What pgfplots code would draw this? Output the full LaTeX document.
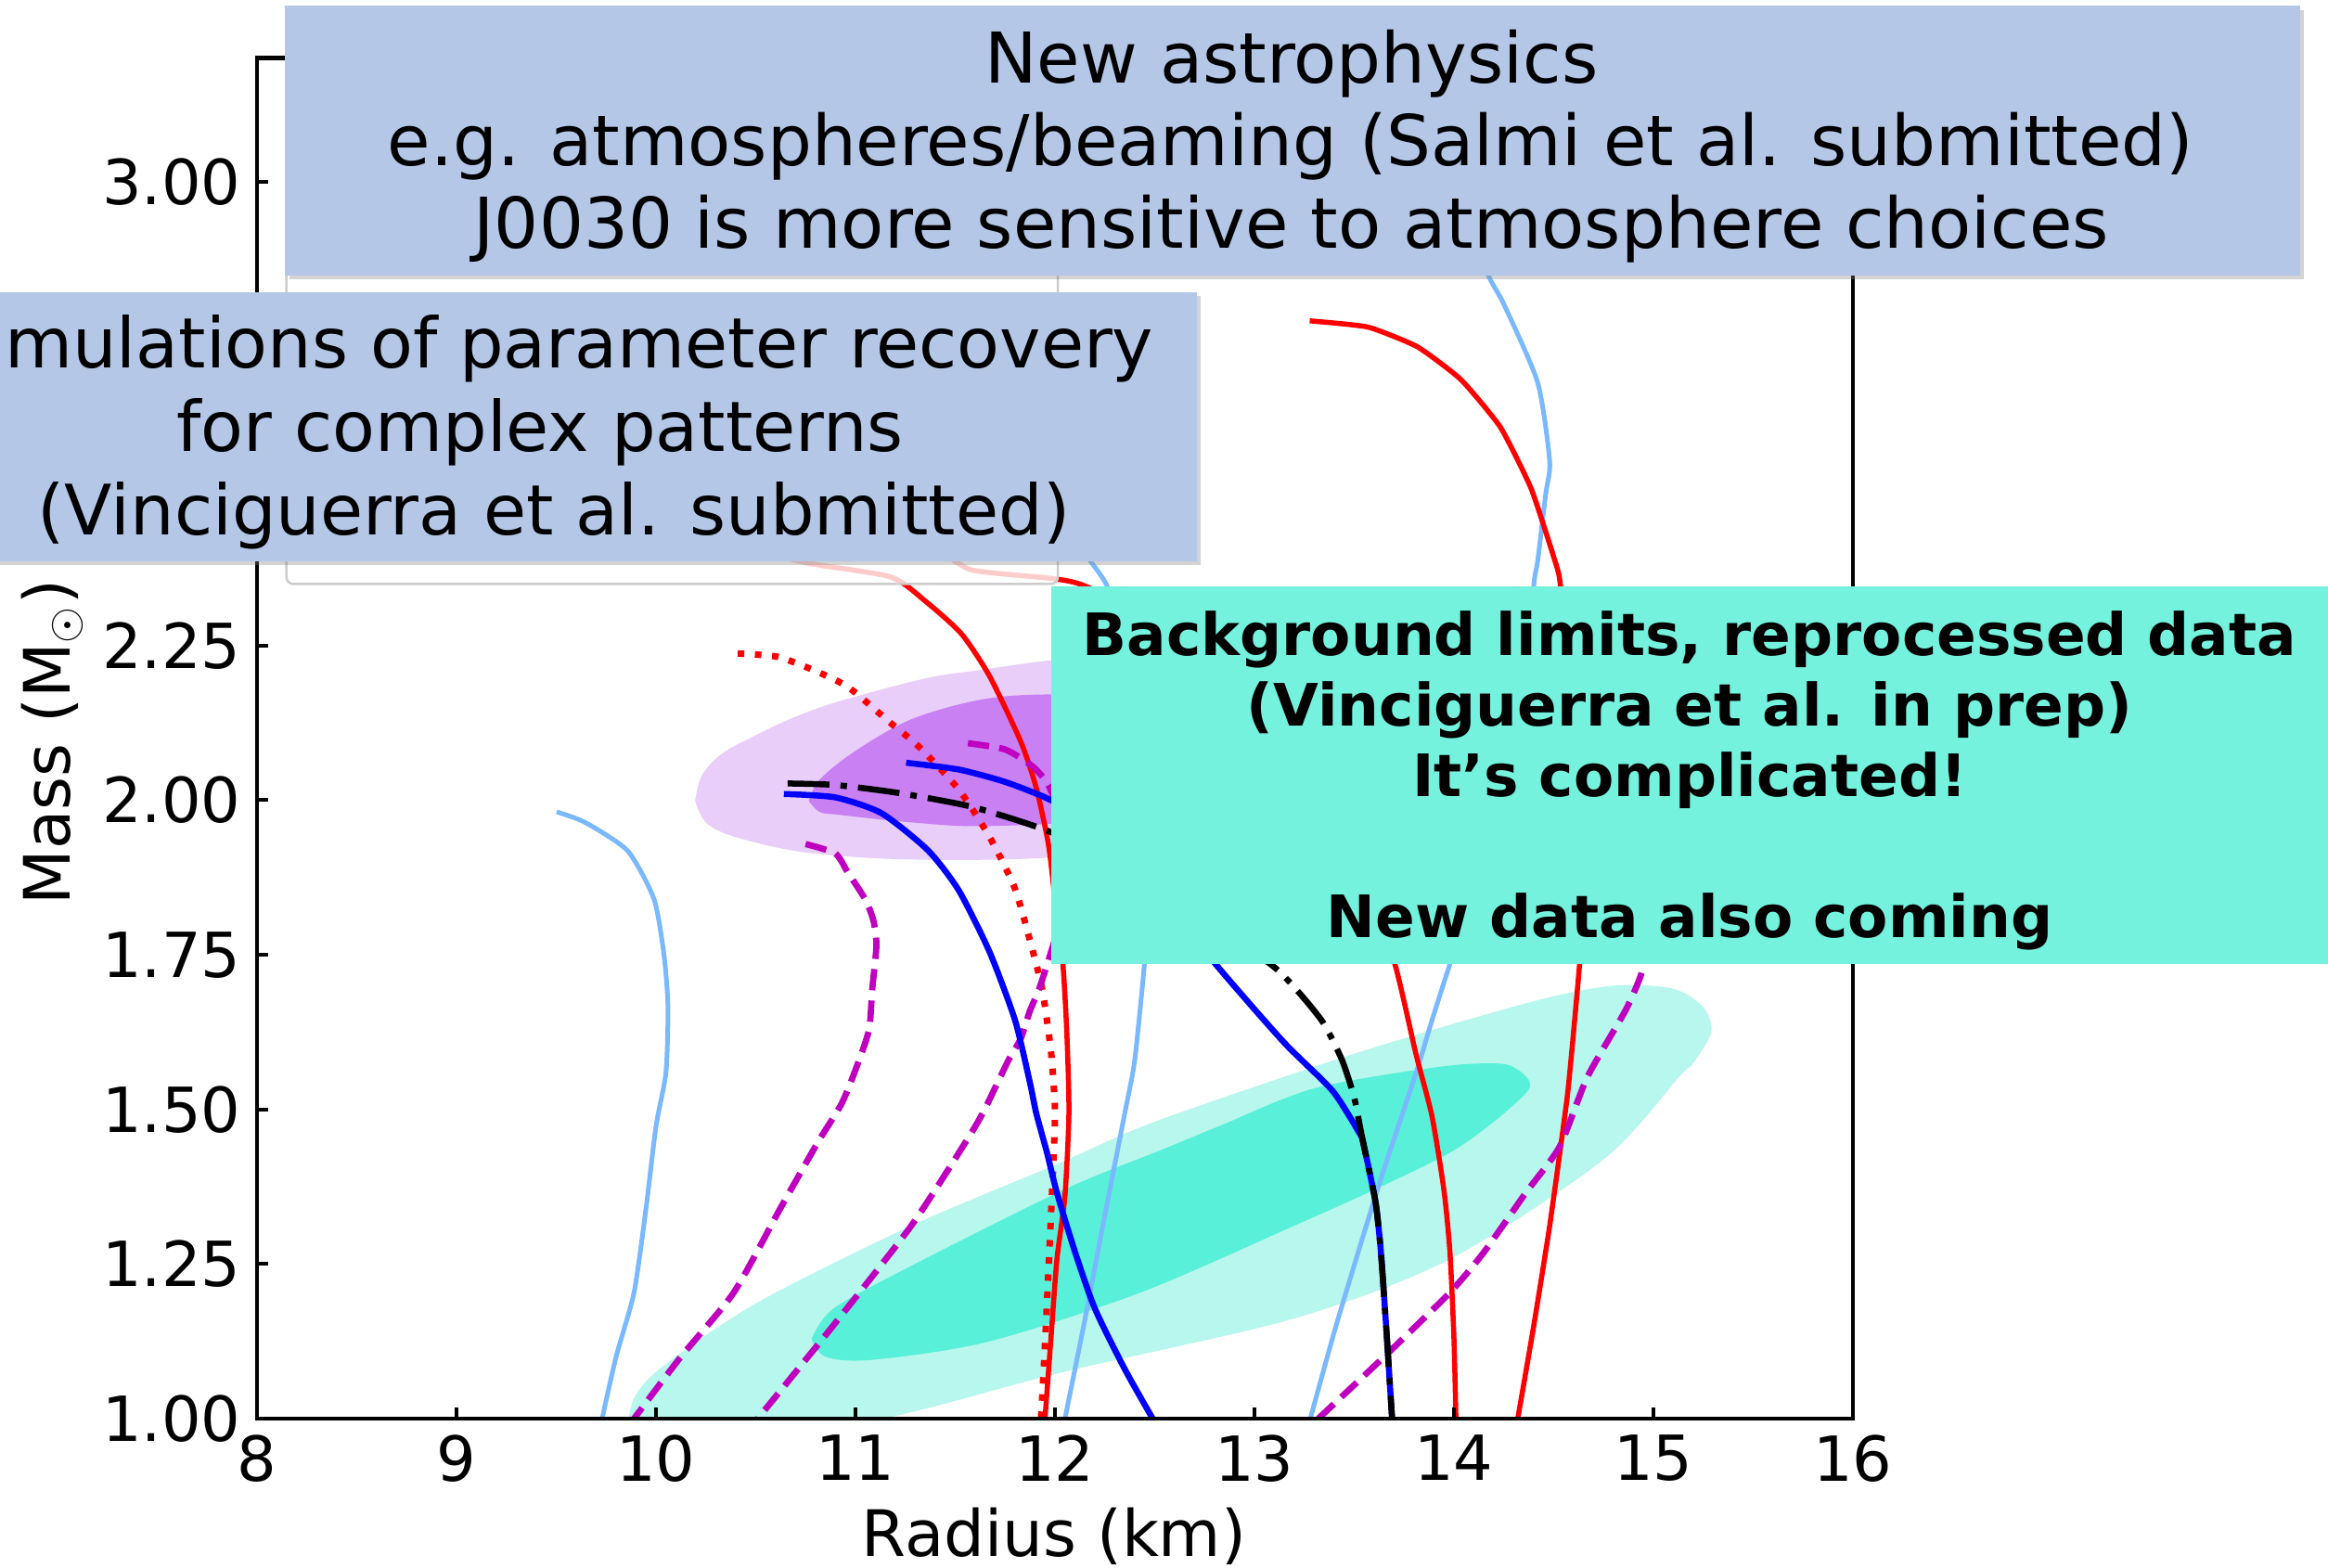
\documentclass[border=0pt]{standalone}
\usepackage{pgfplots}
\pgfplotsset{compat=1.18}
\usepackage{fontspec}
\setmainfont{DejaVu Sans}
\usetikzlibrary{shadows}
\definecolor{lb}{RGB}{122,185,255}
\definecolor{mg}{RGB}{191,0,191}
\definecolor{po}{RGB}{232,206,248}
\definecolor{pin}{RGB}{200,128,242}
\definecolor{to}{RGB}{184,247,237}
\definecolor{ti}{RGB}{88,240,216}
\definecolor{boxblue}{RGB}{180,199,231}
\definecolor{boxteal}{RGB}{116,242,221}
\begin{document}
\begin{tikzpicture}[x=1pt,y=1pt]
\useasboundingbox (0,0) rectangle (501.8,338);
\clip (0,0) rectangle (501.8,338);
\begin{axis}[
  at={(55.4pt,32.2pt)}, anchor=south west,
  scale only axis, width=344pt, height=293.3pt,
  xmin=8, xmax=16, ymin=1, ymax=3.2,
  xtick={8,...,16},
  ytick={1,1.25,1.5,1.75,2,2.25,2.5,2.75,3},
  yticklabels={1.00,1.25,1.50,1.75,2.00,2.25,,,3.00},
  /pgf/number format/assume math mode=true,
  tick label style={font=\fontsize{13.4}{16}\selectfont},
  label style={font=\fontsize{13.8}{16}\selectfont},
  xlabel={Radius (km)}, ylabel={Mass (M$_{\odot}$)},
  xlabel style={at={(axis description cs:0.4994,-0.1016)}, anchor=base},
  ylabel style={at={(axis description cs:-0.1174,0.4971)}, anchor=base},
  tick align=inside, tick pos=left, major tick length=2.4pt,
  every tick/.style={black, line width=0.8pt},
  axis line style={line width=0.9pt},
  axis on top,
  every axis plot/.append style={line join=round},
]
% J0030 contours
\addplot[fill=to, draw=none, smooth, tension=0.5] coordinates {
(9.85,0.97) (9.89,1.033) (10.04,1.086) (10.51,1.188) (11.28,1.312) (12.0,1.41) (12.5,1.48) (13.5,1.59) (14.39,1.674) (14.8,1.70) (15.1,1.695) (15.25,1.665) (15.29,1.625) (15.2,1.575) (15.13,1.553) (14.75,1.419) (13.98,1.258) (13.20,1.162) (12.05,1.076) (11.4,1.02) (11.01,0.99) (10.5,0.95) (10.0,0.94) (9.85,0.97)};
\addplot[fill=ti, draw=none, smooth, tension=0.5] coordinates {
(10.78,1.129) (10.89,1.178) (11.28,1.247) (12.05,1.371) (12.53,1.434) (12.82,1.4725) (13.30,1.534) (13.93,1.569) (14.23,1.574) (14.33,1.562) (14.38,1.544) (14.36,1.526) (14.2,1.48) (13.98,1.43) (13.6,1.37) (13.20,1.312) (12.43,1.204) (11.66,1.124) (11.08,1.095) (10.85,1.10) (10.78,1.129)};
% J0740 contours
\addplot[fill=po, draw=none, smooth, tension=0.55] coordinates {
(10.196,1.999) (10.23,2.04) (10.33,2.075) (10.5,2.105) (10.7,2.135) (10.92,2.16) (11.353,2.197) (11.64,2.211) (11.98,2.226) (12.4,2.235) (12.8,2.21) (13.0,2.12) (12.95,2.02) (12.6,1.94) (12.0,1.908) (11.282,1.904) (10.748,1.9155) (10.392,1.941) (10.25,1.964) (10.196,1.999)};
\addplot[fill=pin, draw=none, smooth, tension=0.55] coordinates {
(10.766,1.999) (10.82,2.033) (10.997,2.079) (11.282,2.131) (11.638,2.163) (11.976,2.171) (12.4,2.165) (12.7,2.12) (12.6,2.02) (12.2,1.97) (11.64,1.958) (11.282,1.964) (10.926,1.976) (10.82,1.981) (10.766,1.999)};
% light blue curves
\addplot[lb, line width=1.0pt, smooth, tension=0.4] coordinates {
(9.502,1.981) (9.645,1.964) (9.858,1.918) (9.99,1.84) (10.04,1.75) (10.06,1.666) (10.05,1.56) (10.0,1.4725) (9.95,1.34) (9.89,1.204) (9.80,1.10) (9.73,1.0)};
\addplot[lb, line width=1.0pt, smooth, tension=0.4] coordinates {
(12.05,1.0) (12.15,1.16) (12.24,1.312) (12.35,1.494) (12.40,1.58) (12.45,1.74) (12.49,1.9) (12.45,2.1) (12.36,2.25) (12.265,2.344) (12.17,2.39) (12.05,2.44)};
\addplot[lb, line width=1.0pt, smooth, tension=0.4] coordinates {
(13.28,1.0) (13.40,1.14) (13.52,1.269) (13.64,1.394) (13.81,1.559) (13.89,1.644) (13.98,1.735) (14.2,1.95) (14.35,2.15) (14.40,2.347) (14.42,2.387) (14.46,2.495) (14.48,2.548) (14.42,2.675) (14.253,2.80) (14.17,2.85) (14.05,2.95)};
% red solid curves
\addplot[red, line width=1.1pt, smooth, tension=0.4] coordinates {
(10.45,2.41) (10.748,2.384) (11.175,2.361) (11.353,2.321) (11.531,2.269) (11.673,2.20) (11.828,2.095) (11.906,2.02) (11.967,1.929) (12.0,1.84) (12.04,1.734) (12.06,1.619) (12.07,1.494) (12.05,1.36) (12.01,1.258) (11.98,1.13) (11.95,1.0)};
\addplot[red, line width=1.1pt, smooth, tension=0.4] coordinates {
(11.45,2.40) (11.585,2.372) (11.994,2.358) (12.153,2.346) (12.5,2.29) (12.9,2.18) (13.3,2.02) (13.55,1.88) (13.704,1.735) (13.81,1.589) (13.89,1.489) (13.95,1.369) (13.98,1.269) (14.0,1.13) (14.01,1.0)};
\addplot[red, line width=1.1pt, smooth, tension=0.3] coordinates {
(13.277,2.775) (13.568,2.765) (13.817,2.733) (14.035,2.680) (14.233,2.603) (14.388,2.503) (14.513,2.38) (14.534,2.347) (14.6,2.15) (14.64,1.95) (14.64,1.80) (14.63,1.735) (14.57,1.526) (14.48,1.312) (14.40,1.15) (14.32,1.0)};
% red dotted
\addplot[red, line width=1.4pt, dash pattern=on 1.4pt off 2.3pt, smooth, tension=0.4] coordinates {
(10.41,2.237) (10.606,2.232) (10.784,2.211) (10.962,2.183) (11.175,2.125) (11.316,2.087) (11.518,2.017) (11.673,1.94) (11.797,1.859) (11.874,1.774) (11.936,1.694) (11.98,1.594) (12.0,1.499) (11.99,1.40) (11.97,1.258) (11.95,1.12) (11.93,1.0)};
% magenta dashed
\addplot[mg, line width=1.35pt, dash pattern=on 4.6pt off 2.2pt, smooth, tension=0.4] coordinates {
(10.75,1.929) (10.898,1.914) (10.96,1.884) (11.05,1.839) (11.09,1.805) (11.105,1.765) (11.084,1.694) (11.068,1.629) (11.006,1.569) (10.93,1.509) (10.81,1.446) (10.62,1.338) (10.39,1.204) (10.12,1.098) (9.89,1.0)};
\addplot[mg, line width=1.35pt, dash pattern=on 4.6pt off 2.2pt, smooth, tension=0.4] coordinates {
(11.564,2.092) (11.75,2.082) (11.89,2.054) (11.967,2.024) (12.03,1.97) (12.05,1.88) (12.02,1.80) (11.975,1.749) (11.92,1.694) (11.874,1.659) (11.828,1.614) (11.766,1.579) (11.642,1.4965) (11.55,1.446) (11.28,1.312) (10.89,1.151) (10.51,1.0)};
\addplot[mg, line width=1.35pt, dash pattern=on 4.6pt off 2.2pt, smooth, tension=0.4] coordinates {
(13.32,1.0) (13.65,1.10) (13.98,1.204) (14.15,1.269) (14.36,1.365) (14.53,1.44) (14.67,1.553) (14.86,1.66) (14.94,1.72) (15.0,1.80)};
% blue solid
\addplot[blue, line width=1.3pt, smooth, tension=0.4] coordinates {
(10.641,2.01) (10.898,2.0045) (11.13,1.979) (11.363,1.919) (11.518,1.854) (11.673,1.754) (11.80,1.644) (11.874,1.544) (11.906,1.494) (11.96,1.43) (12.01,1.365) (12.10,1.27) (12.20,1.178) (12.35,1.08) (12.49,1.0)};
\addplot[blue, line width=1.3pt, smooth, tension=0.4] coordinates {
(11.254,2.0605) (11.518,2.0495) (11.75,2.0295) (11.967,2.002) (12.2,1.96) (12.5,1.86) (12.805,1.735) (13.146,1.609) (13.394,1.529) (13.54,1.454)};
\addplot[blue, line width=1.3pt, smooth, tension=0.4] coordinates {
(13.54,1.454) (13.58,1.394) (13.61,1.344) (13.634,1.269) (13.66,1.15) (13.69,1.0)};
% black dash-dot
\addplot[black, line width=1.3pt, dash pattern=on 9pt off 2.4pt on 1.4pt off 2.4pt, smooth, tension=0.4] coordinates {
(10.66,2.027) (10.898,2.0245) (11.208,2.012) (11.58,1.9895) (11.95,1.952) (12.3,1.90) (12.7,1.82) (13.084,1.734) (13.223,1.689) (13.347,1.639) (13.44,1.579) (13.50,1.519) (13.54,1.454) (13.58,1.394) (13.61,1.344) (13.634,1.269) (13.66,1.15) (13.69,1.0)};
\end{axis}
% legend frame (semi-transparent)
\filldraw[fill=white, fill opacity=0.8, draw=black!20, line width=0.5pt, rounded corners=1.6pt] (61.7,212.1) rectangle (228.04,308);
% box 1
\fill[boxblue, drop shadow={shadow xshift=0.9pt, shadow yshift=-0.9pt, opacity=0.35}] (61.4,278.6) rectangle (495.7,336.7);
\begin{scope}[every node/.style={anchor=base, inner sep=0pt, font=\fontsize{15.1}{18}\selectfont}]
\node at (278.4,320.14) {New astrophysics};
\node at (278.2,302.28) {e.g. atmospheres/beaming (Salmi et al. submitted)};
\node at (278.4,284.42) {J0030 is more sensitive to atmosphere choices};
\end{scope}
% box 2
\fill[boxblue, drop shadow={shadow xshift=0.9pt, shadow yshift=-0.9pt, opacity=0.35}] (-22.2,217.0) rectangle (257.9,275.0);
\begin{scope}[every node/.style={anchor=base, inner sep=0pt, font=\fontsize{15}{18}\selectfont}]
\node at (118.0,258.6) {Simulations of parameter recovery};
\node at (116.4,240.6) {for complex patterns};
\node at (119.4,222.6) {(Vinciguerra et al. submitted)};
\end{scope}
% box 3
\fill[boxteal] (226.5,130.1) rectangle (510,211.6);
\begin{scope}[every node/.style={anchor=base, inner sep=0pt, font=\fontsize{12.6}{15}\selectfont\bfseries}]
\node at (364.2,196.6) {Background limits, reprocessed data};
\node at (364.2,181.4) {(Vinciguerra et al. in prep)};
\node at (364.2,166.2) {It’s complicated!};
\node at (364.2,135.8) {New data also coming};
\end{scope}
\end{tikzpicture}
\end{document}
